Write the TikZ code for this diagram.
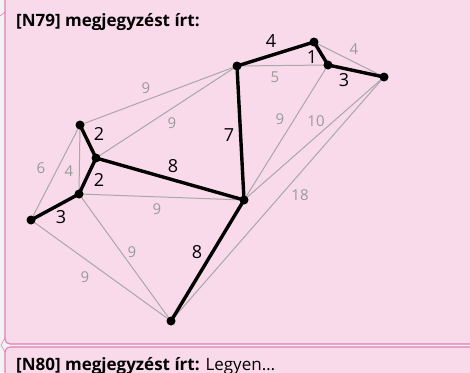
\documentclass[tikz,border=0pt]{standalone}
\usepackage{fontspec}
\setmainfont{Open Sans}
\definecolor{bgpink}{HTML}{F9DAEA}
\definecolor{bdpink}{HTML}{E57DB8}
\definecolor{outer}{HTML}{F2F2F2}
\definecolor{lgray}{HTML}{A8A8A8}
\definecolor{lbl}{HTML}{9A9A9A}
\tikzset{
  vtx/.style={circle,fill=black,inner sep=0pt,minimum size=9pt},
  thick edge/.style={line width=3.4pt,black},
  thin edge/.style={line width=1pt,lgray},
  blab/.style={font=\fontsize{18}{20}\selectfont,text=black,inner sep=0pt},
  glab/.style={font=\fontsize{15}{17}\selectfont,text=lbl,inner sep=0pt},
  box/.style={draw=bdpink,line width=1.1pt,fill=bgpink,rounded corners=5pt},
}
\begin{document}
\begin{tikzpicture}[x=1pt,y=-1pt]
\useasboundingbox (0,0) rectangle (470,372);
\clip (0,0) rectangle (470,372);
\fill[outer] (0,0) rectangle (470,372);
\draw[box] (5,-6) rectangle (480,344);
\draw[box] (5,347) rectangle (480,390);
\draw[bdpink,line width=0.6pt] (0,16) -- (5,12);
\draw[bdpink,line width=0.6pt] (5,338) -- (1,345) -- (5,352);
\node[anchor=base west,inner sep=0pt,font=\fontsize{17}{19}\selectfont\bfseries] (t1) at (16,26) {[N79] megjegyzést írt:};
\node[anchor=base west,inner sep=0pt,font=\fontsize{17}{19}\selectfont] (t2) at (16,370) {\textbf{[N80] megjegyzést írt:} Legyen…};
% vertices
\coordinate (A) at (80,125);
\coordinate (B) at (96,158);
\coordinate (C) at (79,194);
\coordinate (D) at (31,220);
\coordinate (E) at (244,200);
\coordinate (F) at (171,321);
\coordinate (G) at (237,66);
\coordinate (H) at (314,42);
\coordinate (I) at (328,65);
\coordinate (J) at (384,77);
% thin edges
\draw[thin edge] (G) -- (A);
\draw[thin edge] (G) -- (B);
\draw[thin edge] (G) -- (I);
\draw[thin edge] (H) -- (J);
\draw[thin edge] (I) -- (E);
\draw[thin edge] (J) -- (E);
\draw[thin edge] (J) -- (F);
\draw[thin edge] (A) -- (C);
\draw[thin edge] (A) -- (D);
\draw[thin edge] (C) -- (E);
\draw[thin edge] (C) -- (F);
\draw[thin edge] (D) -- (F);
% thick edges
\draw[thick edge] (G) -- (H);
\draw[thick edge] (H) -- (I);
\draw[thick edge] (I) -- (J);
\draw[thick edge] (G) -- (E);
\draw[thick edge] (A) -- (B);
\draw[thick edge] (B) -- (C);
\draw[thick edge] (C) -- (D);
\draw[thick edge] (B) -- (E);
\draw[thick edge] (E) -- (F);
% vertex dots
\foreach \v in {A,B,C,D,E,F,G,H,I,J} \node[vtx] (n\v) at (\v) {};
% black labels
\node[blab] (l1) at (271,41) {4};
\node[blab] (l2) at (312,57) {1};
\node[blab] (l3) at (344,80) {3};
\node[blab] (l4) at (229,135) {7};
\node[blab] (l5) at (99,134) {2};
\node[blab] (l6) at (99,180) {2};
\node[blab] (l7) at (173,166) {8};
\node[blab] (l8) at (61,217) {3};
\node[blab] (l9) at (197,252) {8};
% gray labels
\node[glab] (g1) at (146,88) {9};
\node[glab] (g2) at (172,123) {9};
\node[glab] (g3) at (275,77) {5};
\node[glab] (g4) at (354,49) {4};
\node[glab] (g5) at (280,119) {9};
\node[glab] (g6) at (316,121) {10};
\node[glab] (g7) at (300,195) {18};
\node[glab] (g8) at (41,168) {6};
\node[glab] (g9) at (69,171) {4};
\node[glab] (g10) at (157,209) {9};
\node[glab] (g11) at (132,252) {9};
\node[glab] (g12) at (85,277) {9};
\end{tikzpicture}
\end{document}
